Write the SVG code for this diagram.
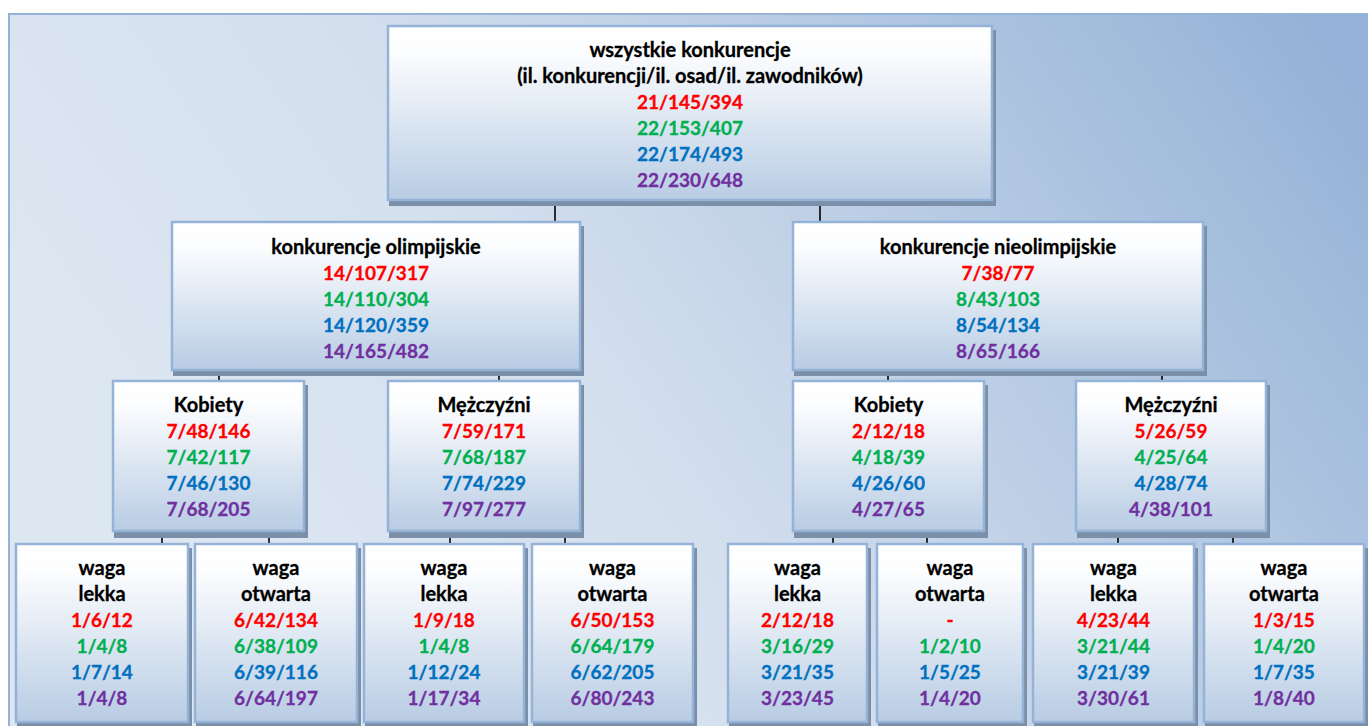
<svg xmlns="http://www.w3.org/2000/svg" width="1368" height="726" viewBox="0 0 1368 726">
<defs>
<linearGradient id="bg" gradientUnits="userSpaceOnUse" x1="300" y1="700" x2="1300" y2="0">
<stop offset="0" stop-color="#dde7f2"/>
<stop offset="0.35" stop-color="#d4dfee"/>
<stop offset="0.7" stop-color="#b3c8e2"/>
<stop offset="1" stop-color="#94b2d7"/>
</linearGradient>
<linearGradient id="box" x1="0" y1="0" x2="0" y2="1">
<stop offset="0" stop-color="#ffffff"/>
<stop offset="0.15" stop-color="#fcfdfe"/>
<stop offset="1" stop-color="#b8cce4"/>
</linearGradient>
</defs>
<style>
.bx{fill:url(#box);stroke:#95b3d7;stroke-width:2.5}
.sh{fill:#7b8fa9}
text{font-family:Lato,"Liberation Sans",sans-serif;font-weight:bold;font-size:19px;text-anchor:middle;stroke-width:0.3}
.k{fill:#000000;stroke:#000000;font-size:20px}
.r{fill:#ff0000;stroke:#ff0000}
.g{fill:#00b050;stroke:#00b050}
.b{fill:#0070c0;stroke:#0070c0}
.p{fill:#7030a0;stroke:#7030a0}
.con line{stroke:#000000;stroke-width:1.6}
</style>
<rect x="0" y="0" width="1368" height="726" fill="#ffffff"/>
<rect x="9" y="14" width="1370" height="730" fill="url(#bg)" stroke="#95b3d7" stroke-width="2"/>

<g id="connectors" class="con">
<line x1="555" y1="200" x2="555" y2="222"/>
<line x1="820" y1="200" x2="820" y2="222"/>
<line x1="219" y1="370" x2="219" y2="381"/>
<line x1="499" y1="370" x2="499" y2="381"/>
<line x1="888" y1="370" x2="888" y2="381"/>
<line x1="1162" y1="370" x2="1162" y2="381"/>
<line x1="162" y1="531" x2="162" y2="544"/>
<line x1="269" y1="531" x2="269" y2="544"/>
<line x1="450" y1="531" x2="450" y2="544"/>
<line x1="565" y1="531" x2="565" y2="544"/>
<line x1="833" y1="531" x2="833" y2="544"/>
<line x1="927" y1="531" x2="927" y2="544"/>
<line x1="1118" y1="531" x2="1118" y2="544"/>
<line x1="1233" y1="531" x2="1233" y2="544"/>
</g>

<g id="root">
<rect class="sh" x="389" y="30" width="607" height="176"/>
<rect class="bx" x="388" y="26" width="604" height="174"/>
<text class="k" x="690" y="57">wszystkie konkurencje</text>
<text class="k" x="690" y="83">(il. konkurencji/il. osad/il. zawodników)</text>
<text class="r" x="690" y="109">21/145/394</text>
<text class="g" x="690" y="135">22/153/407</text>
<text class="b" x="690" y="161">22/174/493</text>
<text class="p" x="690" y="187">22/230/648</text>
</g>

<g id="olimpijskie">
<rect class="sh" x="173" y="226" width="411" height="150"/>
<rect class="bx" x="172" y="222" width="408" height="148"/>
<text class="k" x="376" y="254">konkurencje olimpijskie</text>
<text class="r" x="376" y="280">14/107/317</text>
<text class="g" x="376" y="306">14/110/304</text>
<text class="b" x="376" y="332">14/120/359</text>
<text class="p" x="376" y="358">14/165/482</text>
</g>

<g id="nieolimpijskie">
<rect class="sh" x="794" y="226" width="413" height="150"/>
<rect class="bx" x="793" y="222" width="410" height="148"/>
<text class="k" x="998" y="254">konkurencje nieolimpijskie</text>
<text class="r" x="998" y="280">7/38/77</text>
<text class="g" x="998" y="306">8/43/103</text>
<text class="b" x="998" y="332">8/54/134</text>
<text class="p" x="998" y="358">8/65/166</text>
</g>

<g id="olimp-kobiety">
<rect class="sh" x="114" y="385" width="194" height="153"/>
<rect class="bx" x="113" y="381" width="191" height="150"/>
<text class="k" x="208.5" y="412">Kobiety</text>
<text class="r" x="208.5" y="438">7/48/146</text>
<text class="g" x="208.5" y="464">7/42/117</text>
<text class="b" x="208.5" y="490">7/46/130</text>
<text class="p" x="208.5" y="516">7/68/205</text>
</g>

<g id="olimp-mezczyzni">
<rect class="sh" x="389" y="385" width="195" height="153"/>
<rect class="bx" x="388" y="381" width="192" height="150"/>
<text class="k" x="484" y="412">Mężczyźni</text>
<text class="r" x="484" y="438">7/59/171</text>
<text class="g" x="484" y="464">7/68/187</text>
<text class="b" x="484" y="490">7/74/229</text>
<text class="p" x="484" y="516">7/97/277</text>
</g>

<g id="nieolimp-kobiety">
<rect class="sh" x="794" y="385" width="194" height="153"/>
<rect class="bx" x="793" y="381" width="191" height="150"/>
<text class="k" x="888.5" y="412">Kobiety</text>
<text class="r" x="888.5" y="438">2/12/18</text>
<text class="g" x="888.5" y="464">4/18/39</text>
<text class="b" x="888.5" y="490">4/26/60</text>
<text class="p" x="888.5" y="516">4/27/65</text>
</g>

<g id="nieolimp-mezczyzni">
<rect class="sh" x="1077" y="385" width="193" height="153"/>
<rect class="bx" x="1076" y="381" width="190" height="150"/>
<text class="k" x="1171" y="412">Mężczyźni</text>
<text class="r" x="1171" y="438">5/26/59</text>
<text class="g" x="1171" y="464">4/25/64</text>
<text class="b" x="1171" y="490">4/28/74</text>
<text class="p" x="1171" y="516">4/38/101</text>
</g>

<g id="ok-lekka">
<rect class="sh" x="17" y="548" width="175" height="180"/>
<rect class="bx" x="16" y="544" width="172" height="178"/>
<text class="k" x="102" y="575">waga</text>
<text class="k" x="102" y="601">lekka</text>
<text class="r" x="102" y="627">1/6/12</text>
<text class="g" x="102" y="653">1/4/8</text>
<text class="b" x="102" y="679">1/7/14</text>
<text class="p" x="102" y="705">1/4/8</text>
</g>

<g id="ok-otwarta">
<rect class="sh" x="196" y="548" width="165" height="180"/>
<rect class="bx" x="195" y="544" width="162" height="178"/>
<text class="k" x="276" y="575">waga</text>
<text class="k" x="276" y="601">otwarta</text>
<text class="r" x="276" y="627">6/42/134</text>
<text class="g" x="276" y="653">6/38/109</text>
<text class="b" x="276" y="679">6/39/116</text>
<text class="p" x="276" y="705">6/64/197</text>
</g>

<g id="om-lekka">
<rect class="sh" x="365" y="548" width="163" height="180"/>
<rect class="bx" x="364" y="544" width="160" height="178"/>
<text class="k" x="444" y="575">waga</text>
<text class="k" x="444" y="601">lekka</text>
<text class="r" x="444" y="627">1/9/18</text>
<text class="g" x="444" y="653">1/4/8</text>
<text class="b" x="444" y="679">1/12/24</text>
<text class="p" x="444" y="705">1/17/34</text>
</g>

<g id="om-otwarta">
<rect class="sh" x="533" y="548" width="164" height="180"/>
<rect class="bx" x="532" y="544" width="161" height="178"/>
<text class="k" x="612.5" y="575">waga</text>
<text class="k" x="612.5" y="601">otwarta</text>
<text class="r" x="612.5" y="627">6/50/153</text>
<text class="g" x="612.5" y="653">6/64/179</text>
<text class="b" x="612.5" y="679">6/62/205</text>
<text class="p" x="612.5" y="705">6/80/243</text>
</g>

<g id="nk-lekka">
<rect class="sh" x="729" y="548" width="142" height="180"/>
<rect class="bx" x="728" y="544" width="139" height="178"/>
<text class="k" x="797.5" y="575">waga</text>
<text class="k" x="797.5" y="601">lekka</text>
<text class="r" x="797.5" y="627">2/12/18</text>
<text class="g" x="797.5" y="653">3/16/29</text>
<text class="b" x="797.5" y="679">3/21/35</text>
<text class="p" x="797.5" y="705">3/23/45</text>
</g>

<g id="nk-otwarta">
<rect class="sh" x="878" y="548" width="149" height="180"/>
<rect class="bx" x="877" y="544" width="146" height="178"/>
<text class="k" x="950" y="575">waga</text>
<text class="k" x="950" y="601">otwarta</text>
<text class="r" x="950" y="627">-</text>
<text class="g" x="950" y="653">1/2/10</text>
<text class="b" x="950" y="679">1/5/25</text>
<text class="p" x="950" y="705">1/4/20</text>
</g>

<g id="nm-lekka">
<rect class="sh" x="1034" y="548" width="164" height="180"/>
<rect class="bx" x="1033" y="544" width="161" height="178"/>
<text class="k" x="1113.5" y="575">waga</text>
<text class="k" x="1113.5" y="601">lekka</text>
<text class="r" x="1113.5" y="627">4/23/44</text>
<text class="g" x="1113.5" y="653">3/21/44</text>
<text class="b" x="1113.5" y="679">3/21/39</text>
<text class="p" x="1113.5" y="705">3/30/61</text>
</g>

<g id="nm-otwarta">
<rect class="sh" x="1205" y="548" width="163" height="180"/>
<rect class="bx" x="1204" y="544" width="160" height="178"/>
<text class="k" x="1284" y="575">waga</text>
<text class="k" x="1284" y="601">otwarta</text>
<text class="r" x="1284" y="627">1/3/15</text>
<text class="g" x="1284" y="653">1/4/20</text>
<text class="b" x="1284" y="679">1/7/35</text>
<text class="p" x="1284" y="705">1/8/40</text>
</g>
</svg>
